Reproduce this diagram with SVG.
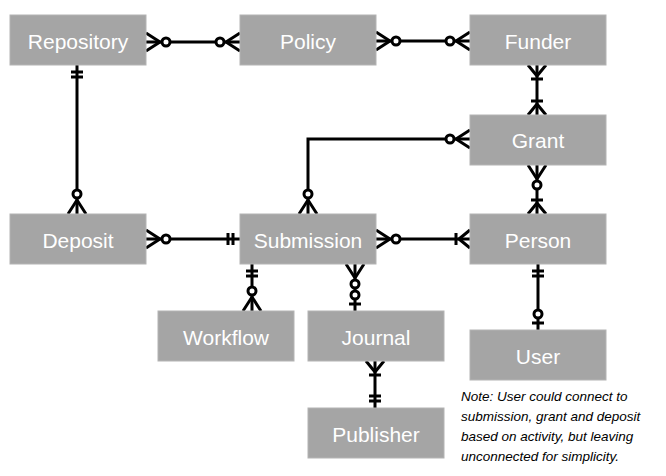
<svg xmlns="http://www.w3.org/2000/svg" width="666" height="476" viewBox="0 0 666 476">
<style>
.box{fill:#a5a5a5;stroke:#b4b4b4;stroke-width:1}
.lbl{font-family:"Liberation Sans",Arial,sans-serif;font-size:21px;fill:#fff;text-anchor:middle;dominant-baseline:central}
.ln{fill:none;stroke:#000;stroke-width:3}
.note{font-family:"Liberation Sans",Arial,sans-serif;font-size:13.5px;font-style:italic;fill:#000}
</style>
<defs>
<g id="mz" class="ln"><path d="M0,-9L14,0M0,9L14,0"/><circle cx="20" cy="0" r="4" fill="#fff"/></g>
<g id="oo" class="ln"><path d="M7,-6V6M12,-6V6"/></g>
<g id="om" class="ln"><path d="M0,-9L11,0M0,9L11,0M14,-6V6"/></g>
<g id="zo" class="ln"><path d="M7,-6V6"/><circle cx="16" cy="0" r="4" fill="#fff"/></g>
</defs>
<rect width="666" height="476" fill="#fff"/>
<g id="connectors">
<path class="ln" d="M146,42H240"/>
<path class="ln" d="M376,41H470"/>
<path class="ln" d="M77,65V214"/>
<path class="ln" d="M537,65V115"/>
<path class="ln" d="M537,165V214"/>
<path class="ln" d="M470,139H308V214"/>
<path class="ln" d="M146,239H240"/>
<path class="ln" d="M376,239H470"/>
<path class="ln" d="M252,264V311"/>
<path class="ln" d="M355,264V311"/>
<path class="ln" d="M375,361V408"/>
<path class="ln" d="M538,264V330"/>
<use href="#mz" transform="translate(146,42)"/>
<use href="#mz" transform="translate(240,42) rotate(180)"/>
<use href="#mz" transform="translate(376,41)"/>
<use href="#mz" transform="translate(470,41) rotate(180)"/>
<use href="#oo" transform="translate(77,65) rotate(90)"/>
<use href="#mz" transform="translate(77,214) rotate(-90)"/>
<use href="#om" transform="translate(537,65) rotate(90)"/>
<use href="#om" transform="translate(537,115) rotate(-90)"/>
<use href="#mz" transform="translate(537,165) rotate(90)"/>
<use href="#om" transform="translate(537,214) rotate(-90)"/>
<use href="#mz" transform="translate(470,139) rotate(180)"/>
<use href="#mz" transform="translate(308,214) rotate(-90)"/>
<use href="#mz" transform="translate(146,239)"/>
<use href="#oo" transform="translate(240,239) rotate(180)"/>
<use href="#mz" transform="translate(376,239)"/>
<use href="#om" transform="translate(470,239) rotate(180)"/>
<use href="#oo" transform="translate(252,264) rotate(90)"/>
<use href="#mz" transform="translate(252,311) rotate(-90)"/>
<use href="#mz" transform="translate(355,264) rotate(90)"/>
<use href="#zo" transform="translate(355,311) rotate(-90)"/>
<use href="#om" transform="translate(375,361) rotate(90)"/>
<use href="#oo" transform="translate(375,408) rotate(-90)"/>
<use href="#oo" transform="translate(538,264) rotate(90)"/>
<use href="#zo" transform="translate(538,330) rotate(-90)"/>
</g>
<g id="repository"><rect class="box" x="10" y="15" width="136" height="50"/><text class="lbl" x="78" y="41">Repository</text></g>
<g id="policy"><rect class="box" x="240" y="15" width="136" height="50"/><text class="lbl" x="308" y="41">Policy</text></g>
<g id="funder"><rect class="box" x="470" y="15" width="136" height="50"/><text class="lbl" x="538" y="41">Funder</text></g>
<g id="grant"><rect class="box" x="470" y="115" width="136" height="50"/><text class="lbl" x="538" y="140">Grant</text></g>
<g id="deposit"><rect class="box" x="10" y="214" width="136" height="50"/><text class="lbl" x="78" y="240">Deposit</text></g>
<g id="submission"><rect class="box" x="240" y="214" width="136" height="50"/><text class="lbl" x="308" y="240">Submission</text></g>
<g id="person"><rect class="box" x="470" y="214" width="136" height="50"/><text class="lbl" x="538" y="240">Person</text></g>
<g id="workflow"><rect class="box" x="158" y="311" width="136" height="50"/><text class="lbl" x="226" y="337">Workflow</text></g>
<g id="journal"><rect class="box" x="308" y="311" width="136" height="50"/><text class="lbl" x="376" y="337">Journal</text></g>
<g id="user"><rect class="box" x="470" y="330" width="136" height="50"/><text class="lbl" x="538" y="356">User</text></g>
<g id="publisher"><rect class="box" x="308" y="408" width="136" height="50"/><text class="lbl" x="376" y="434">Publisher</text></g>
<g id="note">
<text class="note" x="461" y="401">Note: User could connect to</text>
<text class="note" x="461" y="421">submission, grant and deposit</text>
<text class="note" x="461" y="441">based on activity, but leaving</text>
<text class="note" x="461" y="461">unconnected for simplicity.</text>
</g>
</svg>
